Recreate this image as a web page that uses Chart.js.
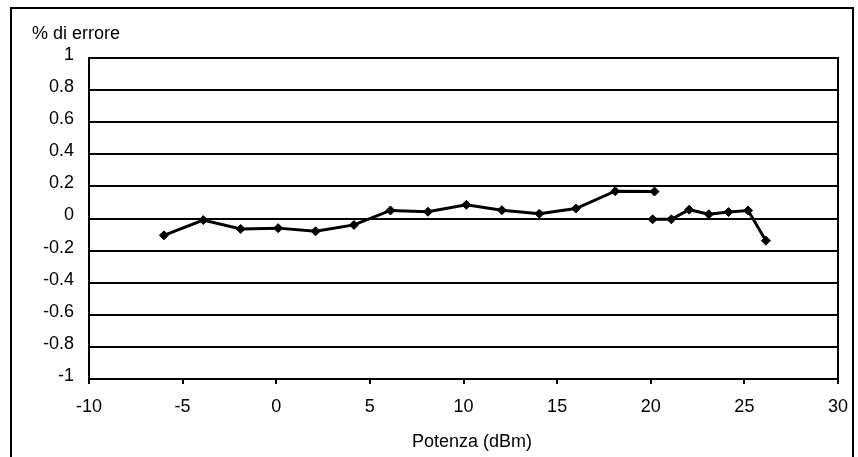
<!DOCTYPE html>
<html>
<head>
<meta charset="utf-8">
<script src="https://cdn.jsdelivr.net/npm/chart.js@4/dist/chart.umd.min.js"></script>
<style>
html,body{margin:0;padding:0;background:#fff;}
#wrap{width:858px;height:457px;}
</style>
</head>
<body>
<div id="wrap"><canvas id="c" width="858" height="457"></canvas></div>
<script>
// Data
const potenzaA = [-6, -3.9, -1.9, 0.1, 2.1, 4.15, 6.1, 8.1, 10.15, 12.05, 14.05, 16.0, 18.1, 20.2];
const erroreA  = [-0.105, -0.01, -0.065, -0.06, -0.08, -0.04, 0.05, 0.042, 0.085, 0.052, 0.03, 0.062, 0.17, 0.168];
const potenzaB = [20.1, 21.1, 22.05, 23.1, 24.15, 25.2, 26.15];
const erroreB  = [-0.005, -0.005, 0.055, 0.026, 0.04, 0.05, -0.138];
const yTitle = '% di errore';
const xTitle = 'Potenza (dBm)';

const points = [];
potenzaA.forEach((x, i) => points.push({x: x, y: erroreA[i]}));
points.push({x: 20.15, y: null});
potenzaB.forEach((x, i) => points.push({x: x, y: erroreB[i]}));

const FONT = "'Liberation Sans', Arial, sans-serif";

const frame = {
  id: 'frame',
  afterDraw(chart) {
    const ctx = chart.ctx;
    const a = chart.chartArea;
    ctx.save();
    ctx.strokeStyle = '#000';
    ctx.lineWidth = 2;
    ctx.strokeRect(a.left, a.top, a.right - a.left, a.bottom - a.top);
    ctx.strokeRect(11, 8, 842, 520);
    ctx.fillStyle = '#000';
    ctx.font = '18px ' + FONT;
    ctx.textBaseline = 'alphabetic';
    ctx.textAlign = 'left';
    ctx.fillText(yTitle, 32, 39);
    ctx.textAlign = 'center';
    ctx.fillText(xTitle, 472, 447);
    ctx.restore();
  }
};

new Chart(document.getElementById('c'), {
  type: 'line',
  data: {
    datasets: [{
      data: points,
      borderColor: '#000',
      backgroundColor: '#000',
      borderWidth: 3,
      pointStyle: 'rectRot',
      pointRadius: 4.5,
      pointBorderWidth: 1,
      pointBackgroundColor: '#000',
      pointBorderColor: '#000',
      spanGaps: false,
      tension: 0
    }]
  },
  options: {
    responsive: false,
    animation: false,
    layout: { padding: { left: 0, right: 20, top: 58, bottom: 0 } },
    plugins: { legend: { display: false }, tooltip: { enabled: false } },
    scales: {
      x: {
        type: 'linear',
        min: -10, max: 30,
        border: { display: true, color: '#000', width: 2 },
        grid: { drawOnChartArea: false, drawTicks: true, tickLength: 5, color: '#000', lineWidth: 2 },
        ticks: { stepSize: 5, color: '#000', font: { family: FONT, size: 18 }, padding: 12, maxRotation: 0 },
        afterFit(s) { s.height = 78; s.paddingRight = 0; s.paddingLeft = 0; }
      },
      y: {
        min: -1, max: 1,
        border: { display: true, color: '#000', width: 2 },
        grid: { drawTicks: false, color: '#000', lineWidth: 2 },
        ticks: {
          stepSize: 0.2, color: '#000', font: { family: FONT, size: 18 }, padding: 15, labelOffset: -3,
          callback: v => String(Number(v.toFixed(1)))
        },
        afterFit(s) { s.width = 89; }
      }
    }
  },
  plugins: [frame]
});
</script>
</body>
</html>
